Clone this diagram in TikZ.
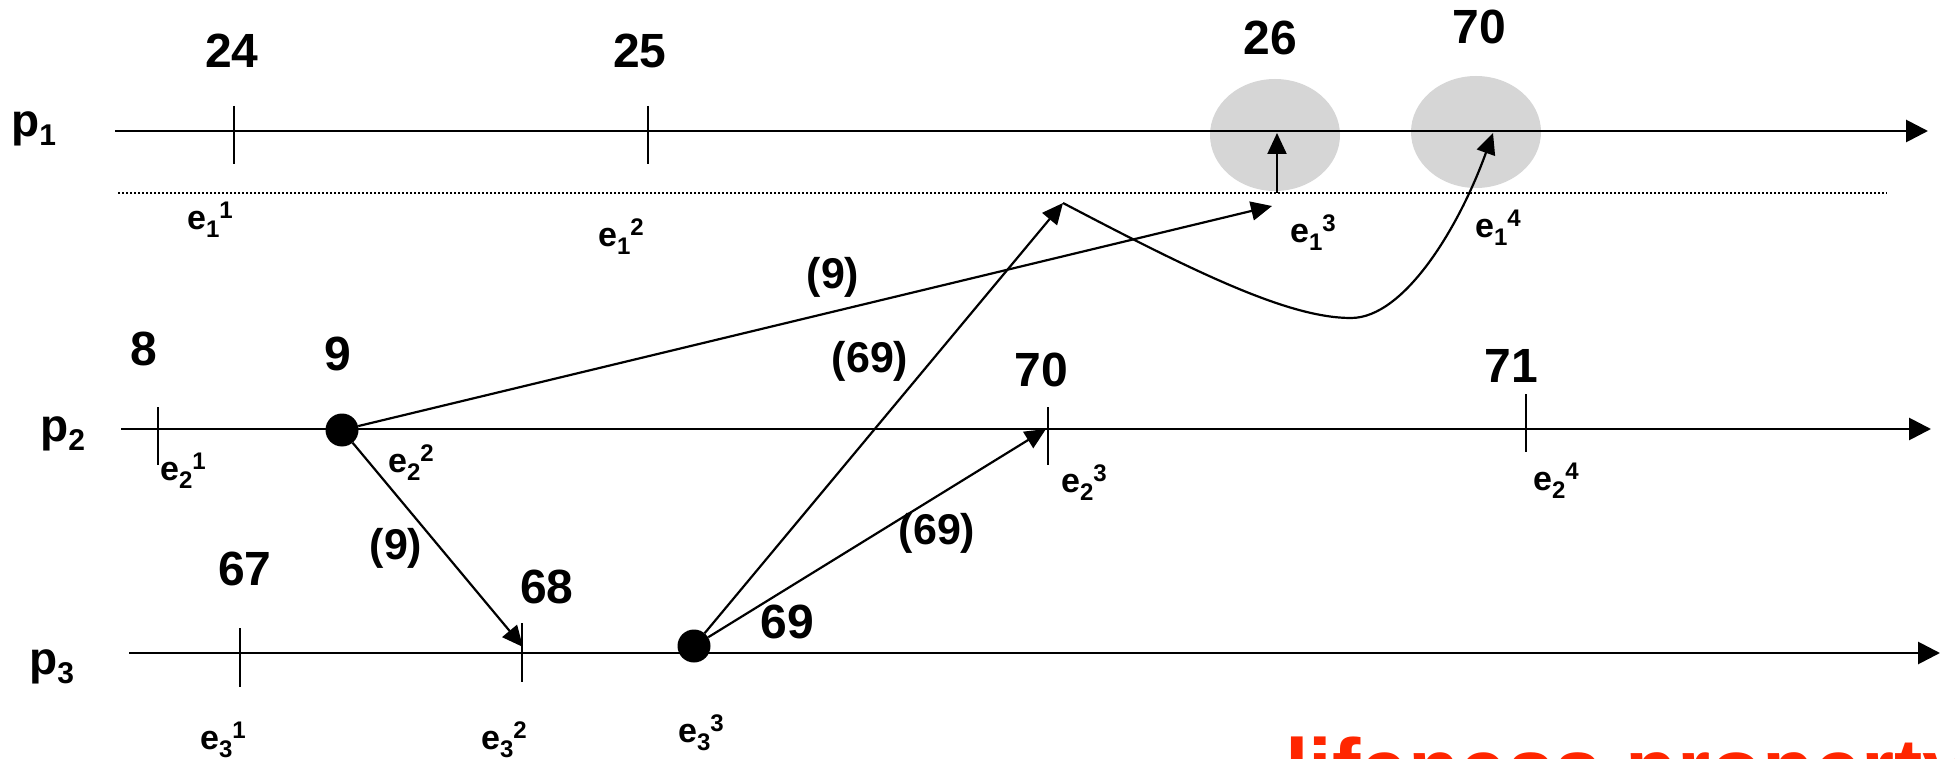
\documentclass[tikz,border=0pt]{standalone}
\usepackage{fontspec}
\setmainfont{Liberation Sans}
\usetikzlibrary{arrows.meta,shapes.geometric}
\definecolor{livred}{RGB}{255,38,0}
\definecolor{haloGray}{RGB}{214,214,214}
\newcommand{\evlab}[2]{{\fontsize{34}{34}\selectfont e}\raisebox{-8pt}{\fontsize{24}{24}\selectfont #1}\raisebox{11pt}{\fontsize{24}{24}\selectfont #2}}
\newcommand{\plab}[1]{{\fontsize{46}{46}\selectfont p}\raisebox{-9pt}{\fontsize{30}{30}\selectfont #1}}
\begin{document}
\begin{tikzpicture}[x=1pt,y=-1pt,
  num/.style={font={\bfseries\fontsize{48}{48}\selectfont}, inner sep=0pt},
  msglab/.style={font={\bfseries\fontsize{43}{43}\selectfont}, inner sep=0pt},
  evl/.style={font=\bfseries, inner sep=0pt, anchor=base west},
  plabel/.style={font=\bfseries, inner sep=0pt, anchor=base west},
  timeline/.style={line width=2.8pt, -{Triangle[length=22pt,width=22pt]}},
  tickmark/.style={line width=2.2pt},
  msg/.style={line width=2.2pt, -{Triangle[length=21pt,width=19pt]}},
  dotline/.style={line width=2.2pt, dash pattern=on 2pt off 2pt},
  dot/.style={circle, fill=black, inner sep=0pt, minimum size=33pt},
  haloshape/.style={ellipse, fill=haloGray, inner sep=0pt, minimum width=130pt, minimum height=112pt},
  redtext/.style={font={\bfseries\fontsize{85}{85}\selectfont}, text=livred, inner sep=0pt, anchor=base west}]
\useasboundingbox (0,0) rectangle (1955,759);
\clip (0,0) rectangle (1955,759);

% highlight ellipses
\node[haloshape] (h26) at (1275,135) {};
\node[haloshape] (h70) at (1476,132) {};

% process labels
\node[plabel] (lp1) at (11,137) {\plab{1}};
\node[plabel] (lp2) at (40,441) {\plab{2}};
\node[plabel] (lp3) at (29,674) {\plab{3}};

% timelines
\coordinate (p1s) at (115,131); \coordinate (p1e) at (1928,131);
\coordinate (p2s) at (121,429); \coordinate (p2e) at (1931,429);
\coordinate (p3s) at (129,653); \coordinate (p3e) at (1940,653);
\draw[timeline] (p1s) -- (p1e);
\draw[timeline] (p2s) -- (p2e);
\draw[timeline] (p3s) -- (p3e);

% dotted line under p1
\coordinate (dls) at (118,193); \coordinate (dle) at (1887,193);
\draw[dotline] (dls) -- (dle);

% ticks
\draw[tickmark] (234,106) -- (234,164);
\draw[tickmark] (648,106) -- (648,164);
\draw[tickmark] (158,407) -- (158,465);
\draw[tickmark] (1048,407) -- (1048,465);
\draw[tickmark] (1526,394) -- (1526,452);
\draw[tickmark] (240,628) -- (240,687);
\draw[tickmark] (522,623) -- (522,682);

% event dots
\node[dot] (d22) at (342,430) {};
\node[dot] (d33) at (694,646) {};

% messages
\coordinate (r13) at (1272,206);
\coordinate (r32) at (523,647);
\coordinate (r23) at (1046,429);
\coordinate (via) at (1063,203);
\coordinate (r14) at (1493,133);
\coordinate (b13) at (1277,193);
\coordinate (a13) at (1277,133);
\draw[msg] (d22) -- (r13);
\draw[msg] (d22) -- (r32);
\draw[msg] (d33) -- (r23);
\draw[msg] (d33) -- (via);
\draw[msg] (via) .. controls (1200,275) and (1290,318) .. (1351,318)
              .. controls (1405,318) and (1460,225) .. (r14);
\draw[msg] (b13) -- (a13);

% clock values
\node[num] (n24) at (232,51) {24};
\node[num] (n25) at (640,51) {25};
\node[num] (n26) at (1270,38) {26};
\node[num] (n70a) at (1479,27) {70};
\node[num] (n8) at (144,349) {8};
\node[num] (n9) at (338,354) {9};
\node[num] (n70b) at (1041,370) {70};
\node[num] (n71) at (1511,366) {71};
\node[num] (n67) at (245,569) {67};
\node[num] (n68) at (547,587) {68};
\node[num] (n69) at (787,622) {69};

% message timestamps
\node[msglab] (m9a) at (833,277) {(9)};
\node[msglab] (m9b) at (396,548) {(9)};
\node[msglab] (m69a) at (870,361) {(69)};
\node[msglab] (m69b) at (937,533) {(69)};

% event labels
\node[evl] (e11) at (187,230) {\evlab{1}{1}};
\node[evl] (e12) at (598,247) {\evlab{1}{2}};
\node[evl] (e13) at (1290,243) {\evlab{1}{3}};
\node[evl] (e14) at (1475,238) {\evlab{1}{4}};
\node[evl] (e21) at (160,480) {\evlab{2}{1}};
\node[evl] (e22) at (388,472) {\evlab{2}{2}};
\node[evl] (e23) at (1061,492) {\evlab{2}{3}};
\node[evl] (e24) at (1533,490) {\evlab{2}{4}};
\node[evl] (e31) at (200,749) {\evlab{3}{1}};
\node[evl] (e32) at (481,749) {\evlab{3}{2}};
\node[evl] (e33) at (678,742) {\evlab{3}{3}};

% red caption (cut off by the frame, as in the reference)
\node[redtext] (cap) at (1285,798) {lifeness property};
\end{tikzpicture}
\end{document}
